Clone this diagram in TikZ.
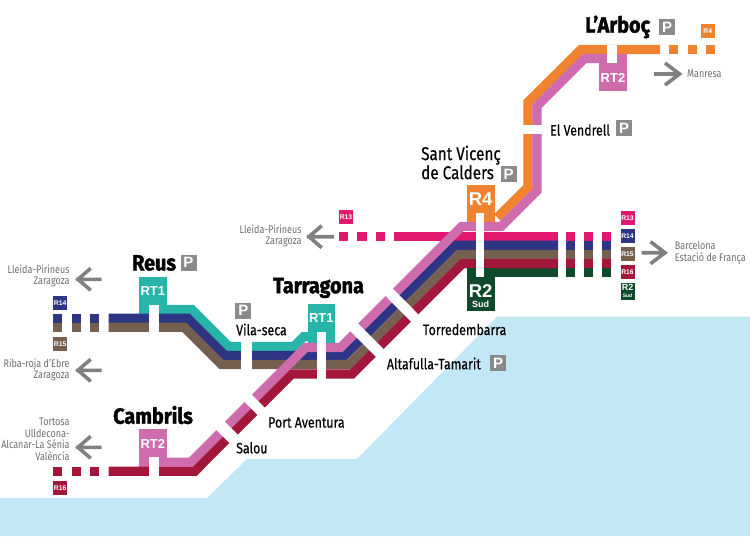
\documentclass[tikz,border=0pt]{standalone}
\usepackage{fontspec}
\setmainfont{Fira Sans}[FakeStretch=0.82]
\newfontfamily\stn{Fira Sans}[FakeStretch=0.825,FakeBold=0.4]
\newfontfamily\hv{Fira Sans Bold}[FakeStretch=0.9,FakeBold=1.8]
\newfontfamily\bx{Liberation Sans Bold}
\definecolor{sea}{HTML}{C2E8F6}
\definecolor{orng}{HTML}{F08330}
\definecolor{rose}{HTML}{CF6CAE}
\definecolor{teal2}{HTML}{26B5A8}
\definecolor{navy2}{HTML}{2E3584}
\definecolor{brwn}{HTML}{75604F}
\definecolor{crim}{HTML}{A2173A}
\definecolor{magn}{HTML}{E0186E}
\definecolor{dgrn}{HTML}{0F4A2C}
\definecolor{pgray}{HTML}{8A8A8A}
\definecolor{agray}{HTML}{808080}
\definecolor{tgray}{HTML}{6E6E6E}
\tikzset{
  band/.style={line width=9.2pt,line join=miter,miter limit=10},
  gapbar/.style={white,line width=#1},
  garrow/.style={agray,line width=3.6pt,line join=miter},
  pbadge/.style={fill=pgray,text=white,minimum size=16pt,inner sep=0pt,font=\bx\fontsize{15}{15}\selectfont},
  rbadge/.style={text=white,minimum size=14pt,inner sep=0pt,font=\bx\fontsize{6.8}{7}\selectfont},
  stat/.style={inner sep=0pt,anchor=west,font=\stn\fontsize{15}{15}\selectfont},
  big/.style={inner sep=0pt,anchor=west,font=\hv\fontsize{22}{22}\selectfont},
  far/.style={inner sep=0pt,text=tgray,align=right,anchor=east,font=\fontsize{11}{11.6}\selectfont},
  rt/.style={text=white,inner sep=0pt,font=\bx\fontsize{13}{13}\selectfont},
}
\begin{document}
\begin{tikzpicture}[x=1pt,y=-1pt]
\useasboundingbox (0,0) rectangle (750,536);
% sea
\fill[sea] (0,498) -- (207,498) -- (247,459) -- (357,459) -- (497,316.7) -- (750,316.7) -- (750,536) -- (0,536) -- cycle;
% boxes under lines
\fill[teal2] (139,276.7) rectangle (166.7,314);
\fill[teal2] (307.7,304.3) rectangle (335,343);
\fill[rose] (139,429.3) rectangle (166.7,466.7);
\fill[rose] (599.3,53.5) rectangle (626.7,91);
% lines
\draw[band,teal2] (158,309.5) -- (191.9,309.5) -- (228.9,346.5) -- (293.9,346.5) -- (303.6,336.8) -- (320,336.8);
\draw[band,orng] (497.4,217.5) -- (528,186.9) -- (528,102) -- (581,49.5) -- (660,49.5);
\draw[band,magn] (393.7,236.2) -- (558,236.2);
\draw[band,dgrn] (466.7,272.5) -- (558,272.5);
\draw[band,navy2] (108.7,318.3) -- (188,318.3) -- (225.2,355.5) -- (344.7,355.5) -- (455.4,245.3) -- (558,245.3);
\draw[band,brwn] (108.7,327.2) -- (184.2,327.2) -- (221.5,364.5) -- (348.9,364.5) -- (458.9,254.5) -- (558,254.5);
\draw[band,crim] (108.7,471.2) -- (194.8,471.2) -- (291.8,374) -- (352.2,374) -- (462.5,263.7) -- (558,263.7);
\draw[band,rose] (158,462.2) -- (191,462.2) -- (305.5,347.5) -- (340.5,347.5) -- (461.5,226.5) -- (501,226.5) -- (537,190.6) -- (537,106) -- (584.6,58.5) -- (607,58.5);
% station boxes
\fill[orng] (466.7,185) rectangle (494.7,222);
\fill[dgrn] (466.7,268) rectangle (494.7,310.5);
% dashes
\foreach \a in {53.3,71.7,90}{
  \fill[navy2] (\a,314) rectangle ++(9,9);
  \fill[brwn] (\a,323) rectangle ++(9,9);
  \fill[crim] (\a,466.7) rectangle ++(9,9);
}
\foreach \a in {339,357.3,375.7}{\fill[magn] (\a,231.7) rectangle ++(9.2,9);}
\foreach \a in {669,687.5,706}{\fill[orng] (\a,45) rectangle ++(9,9);}
\foreach \a in {566.3,584.3,602.3}{
  \fill[magn] (\a,231.7) rectangle ++(9,9);
  \fill[navy2] (\a,240.7) rectangle ++(9,9.3);
  \fill[brwn] (\a,250) rectangle ++(9,9);
  \fill[crim] (\a,259) rectangle ++(9,9.3);
  \fill[dgrn] (\a,268.3) rectangle ++(9,8.4);
}
% white gaps
\fill[white] (148.7,305) rectangle (158.7,332.5);
\fill[white] (148.7,457.3) rectangle (158.7,476.5);
\fill[white] (241,341) rectangle (251.7,370);
\fill[white] (316.7,332.3) rectangle (326,379);
\fill[white] (475.7,213) rectangle (484,276.7);
\fill[white] (607,44.5) rectangle (617,63);
\fill[white] (522.5,124.7) rectangle (542,134);
\draw[gapbar=10.3pt] (388.4,291.6) -- (415.6,318.9);
\draw[gapbar=11pt] (353.4,326.6) -- (380.4,353.6);
\draw[gapbar=11.8pt] (220,425.3) -- (234,439.3);
\draw[gapbar=10.3pt] (247.4,397.6) -- (261.4,411.6);
% arrows
\draw[garrow] (76,279.3) -- (101.7,279.3) (90.7,268.3) -- (78,279.3) -- (90.7,290.3);
\draw[garrow] (76,370.3) -- (101.7,370.3) (90.7,359.3) -- (78,370.3) -- (90.7,381.3);
\draw[garrow] (76,447.3) -- (101.7,447.3) (90.7,436.3) -- (78,447.3) -- (90.7,458.3);
\draw[garrow] (307,236.7) -- (334,236.7) (321.7,225.7) -- (309,236.7) -- (321.7,247.7);
\draw[garrow] (641.7,252.7) -- (666,252.7) (650.5,241.7) -- (665,252.7) -- (650.5,263.7);
\draw[garrow] (654,74) -- (680,74) (665,63) -- (679.5,74) -- (665,85);
% route badges
\node[rbadge,fill=navy2] (b14l) at (60.2,303) {R14};
\node[rbadge,fill=brwn] (b15l) at (60.2,343.7) {R15};
\node[rbadge,fill=crim] (b16l) at (60.2,488) {R16};
\node[rbadge,fill=magn] (b13l) at (346,217) {R13};
\node[rbadge,fill=orng] (b4) at (707.8,31.3) {R4};
\node[rbadge,fill=magn] (b13r) at (627.5,218) {R13};
\node[rbadge,fill=navy2] (b14r) at (627.5,236.3) {R14};
\node[rbadge,fill=brwn] (b15r) at (627.5,254.2) {R15};
\node[rbadge,fill=crim] (b16r) at (627.5,272) {R16};
\node[rbadge,fill=dgrn,minimum height=17.3pt,align=center,font=\bx\fontsize{9}{8}\selectfont] (b2r) at (627.5,291.3) {R2\\[-1pt]{\fontsize{5}{5}\selectfont Sud}};
% box labels
\node[rt] (rt1a) at (152.8,291) {RT1};
\node[rt] (rt1b) at (321.3,318.3) {RT1};
\node[rt] (rt2a) at (152.8,444) {RT2};
\node[rt] (rt2b) at (613,78.3) {RT2};
\node[rt,font=\bx\fontsize{18.5}{18.5}\selectfont] (r4) at (480.7,199.5) {R4};
\node[rt,font=\bx\fontsize{18.5}{18.5}\selectfont] (r2) at (480.7,290.7) {R2};
\node[rt,font=\bx\fontsize{9}{9}\selectfont] (sud) at (480.7,304.3) {Sud};
% P badges
\node[pbadge] (p1) at (188.5,262.5) {P};
\node[pbadge] (p2) at (243.3,310.5) {P};
\node[pbadge] (p3) at (498,363.3) {P};
\node[pbadge] (p4) at (508.7,174) {P};
\node[pbadge] (p5) at (624,128) {P};
\node[pbadge] (p6) at (667,27) {P};
% names
\node[big] (reus) at (132,263) {Reus};
\node[big] (tarr) at (273,288) {Tarragona};
\node[big] (camb) at (113,415) {Cambrils};
\node[big] (arb) at (585,27) {L’Arboç};
\node[stat,font=\stn\fontsize{18.5}{19}\selectfont,align=left] (svc) at (421,162.5) {Sant Vicenç\\de Calders};
\node[stat] (vila) at (236,329.5) {Vila-seca};
\node[stat] (torr) at (422.7,329.5) {Torredembarra};
\node[stat] (alta) at (386.7,363.5) {Altafulla-Tamarit};
\node[stat] (port) at (268,422.5) {Port Aventura};
\node[stat] (salou) at (236,447.8) {Salou};
\node[stat] (vend) at (550,130) {El Vendrell};
% destinations
\node[far] (d1) at (69.7,276) {Lleida-Pirineus\\Zaragoza};
\node[far] (d2) at (69.7,370) {Riba-roja d’Ebre\\Zaragoza};
\node[far] (d3) at (69.7,439.3) {Tortosa\\Ulldecona-\\Alcanar-La Sénia\\València};
\node[far] (d4) at (301.7,236) {Lleida-Pirineus\\Zaragoza};
\node[far,align=left,anchor=west] (d5) at (674.7,252.8) {Barcelona\\Estació de França};
\node[far,align=left,anchor=west] (d6) at (687,74) {Manresa};
\end{tikzpicture}
\end{document}
